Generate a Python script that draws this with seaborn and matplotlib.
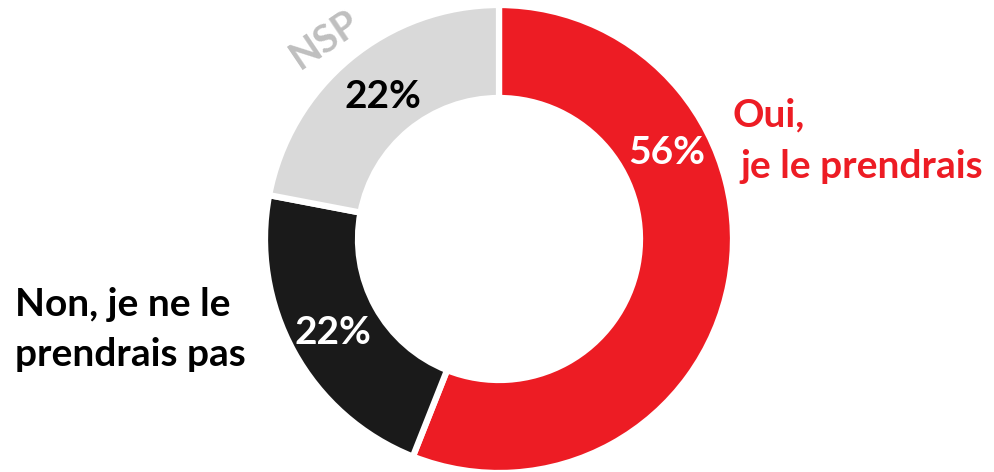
import matplotlib
matplotlib.use("Agg")
import matplotlib.pyplot as plt
import seaborn as sns

# data
categories = ["Oui, je le prendrais", "Non, je ne le prendrais pas", "NSP"]
values = [56, 22, 22]
pct_labels = ["56%", "22%", "22%"]
colors = ["#ED1C24", "#1A1A1A", "#D9D9D9"]

sns.set_theme(style="white")
plt.rcParams['font.family'] = ['Lato', 'DejaVu Sans']

W, H = 995, 472
fig = plt.figure(figsize=(W / 100, H / 100), dpi=100)
ax = fig.add_axes([0, 0, 1, 1])
ax.set_xlim(0, W)
ax.set_ylim(0, H)
ax.set_aspect("equal")
ax.axis("off")

cx, cy = 499, H - 239
wedges, _ = ax.pie(values, colors=colors, startangle=90, counterclock=False,
                   center=(cx, cy), radius=234,
                   wedgeprops=dict(width=93, edgecolor="white", linewidth=4.5))
ax.set_xlim(0, W)
ax.set_ylim(0, H)

fs = 28
# percentage labels
ax.text(667, H - 152, pct_labels[0], color="white", fontsize=fs, fontweight="bold",
        ha="center", va="center")
ax.text(333, H - 332, pct_labels[1], color="white", fontsize=fs, fontweight="bold",
        ha="center", va="center")
ax.text(383, H - 96, pct_labels[2], color="black", fontsize=fs, fontweight="bold",
        ha="center", va="center")

# category labels
ax.text(733, H - 115, "Oui,", color="#ED1C24", fontsize=fs, fontweight="bold",
        ha="left", va="center")
ax.text(740, H - 166, "je le prendrais", color="#ED1C24", fontsize=fs, fontweight="bold",
        ha="left", va="center")
ax.text(15, H - 304, "Non, je ne le", color="black", fontsize=fs, fontweight="bold",
        ha="left", va="center")
ax.text(15, H - 355, "prendrais pas", color="black", fontsize=fs, fontweight="bold",
        ha="left", va="center")
ax.text(325, H - 39, "NSP", color="#BFBFBF", fontsize=28, fontweight="bold",
        ha="center", va="center", rotation=34)

fig.savefig("out.png", dpi=100, facecolor="white")
